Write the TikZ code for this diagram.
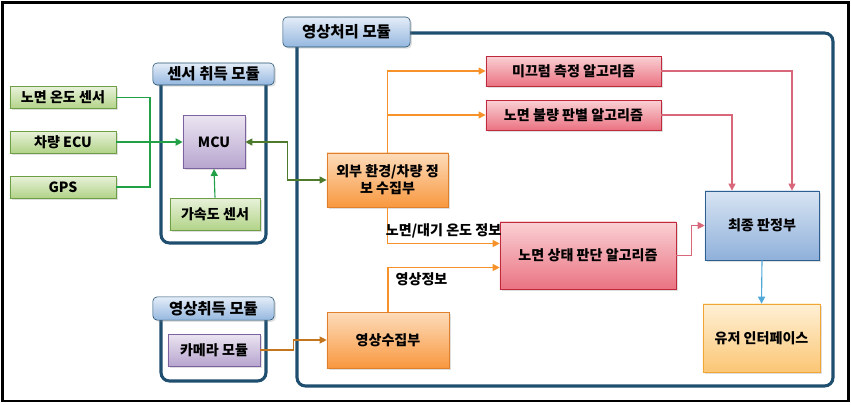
\documentclass[tikz,border=0pt]{standalone}
\usepackage{fontspec}
\setmainfont{Noto Sans CJK KR}
\usetikzlibrary{arrows.meta,calc,shadows}
\definecolor{modblue}{HTML}{1F4E6E}
\definecolor{grnline}{HTML}{22A046}
\definecolor{dkgrn}{HTML}{4E7A2E}
\definecolor{orgline}{HTML}{F7922A}
\definecolor{brnline}{HTML}{C4761F}
\definecolor{redline}{HTML}{D9677A}
\definecolor{bluline}{HTML}{4FA8D8}
\definecolor{grntop}{HTML}{E8F2DA}
\definecolor{grnbot}{HTML}{B2D388}
\definecolor{grnedge}{HTML}{6E9E45}
\definecolor{purtop}{HTML}{EBE5F1}
\definecolor{purbot}{HTML}{B7A5CF}
\definecolor{puredge}{HTML}{7C62A0}
\definecolor{hdrtop}{HTML}{E4EDF8}
\definecolor{hdrbot}{HTML}{95B7DF}
\definecolor{orgtop}{HTML}{FDDCBB}
\definecolor{orgbot}{HTML}{F8983F}
\definecolor{orgedge}{HTML}{E0802C}
\definecolor{redtop}{HTML}{FAD0D4}
\definecolor{redbot}{HTML}{EA7382}
\definecolor{rededge}{HTML}{BE2A3C}
\definecolor{fintop}{HTML}{D8E4F3}
\definecolor{finbot}{HTML}{8FB0DA}
\definecolor{finedge}{HTML}{2D5F90}
\definecolor{uitop}{HTML}{FEF0D5}
\definecolor{uibot}{HTML}{FBC675}
\definecolor{uiedge}{HTML}{F0A535}
\tikzset{
  box/.style={
    inner sep=0pt,
    align=center,
    drop shadow={opacity=0.25,shadow xshift=1.2pt,shadow yshift=-1.2pt}},
  sensor/.style={box,
    draw=grnedge,
    top color=grntop,
    bottom color=grnbot,
    minimum width=2.65cm,
    minimum height=0.55cm},
  mcubox/.style={box,
    draw=puredge,
    top color=purtop,
    bottom color=purbot},
  header/.style={box,
    rounded corners=3pt,
    draw=modblue,
    top color=hdrtop,
    bottom color=hdrbot,
    font=\fontsize{11}{13}\selectfont\bfseries,
    minimum width=3.03cm,
    minimum height=0.55cm},
  orgbox/.style={box,
    draw=orgedge,
    top color=orgtop,
    bottom color=orgbot},
  redbox/.style={box,
    draw=rededge,
    top color=redtop,
    bottom color=redbot},
  finbox/.style={box,
    draw=finedge,
    top color=fintop,
    bottom color=finbot},
  uibox/.style={box,
    draw=uiedge,
    top color=uitop,
    bottom color=uibot},
  modframe/.style={
    draw=modblue,
    line width=2.2pt,
    rounded corners=6pt},
  conn/.style={line width=0.8pt,
    >={Triangle[length=5pt,width=5pt]}}}

\begin{document}
\begin{tikzpicture}[x=0.025cm, y=-0.025cm,
  font=\fontsize{10}{12}\selectfont\bfseries]

\useasboundingbox (0,0) rectangle (851,404);
\draw[line width=2pt] (2.5,2.5) rectangle (848.5,401);

\coordinate (S1) at (63,97.5);
\coordinate (S2) at (63,142);
\coordinate (S3) at (63,187);
\coordinate (M) at (214,142);
\coordinate (A) at (215,214);
\coordinate (H1) at (213.5,74);
\coordinate (H2) at (213.5,308.5);
\coordinate (H3) at (346.5,32);
\coordinate (C) at (214,350);
\coordinate (E) at (387.5,180);
\coordinate (V) at (388,340);
\coordinate (R1) at (573.5,71);
\coordinate (R2) at (573.5,115);
\coordinate (R3) at (588,255.5);
\coordinate (F) at (762,225.5);
\coordinate (U) at (761.5,338);
\coordinate (join) at (150,142);

\draw[modframe] (161,80) -- (161,243) -- (266,243) -- (266,80);
\draw[modframe] (161,315) -- (161,381) -- (266,381) -- (266,315);
\draw[modframe] (297,42) -- (297,386) -- (833,386) -- (833,33) -- (400,33);

\node[header] (sensmod) at (H1) {센서 취득 모듈};
\node[header,
  minimum height=0.58cm] (cammod) at (H2) {영상취득 모듈};
\node[header,
  minimum width=3.18cm,
  minimum height=0.75cm] (imgmod) at (H3) {영상처리 모듈};

\node[sensor] (roadtemp) at (S1) {노면 온도 센서};
\node[sensor] (ecu) at (S2) {차량 ECU};
\node[sensor] (gps) at (S3) {GPS};
\node[sensor,
  minimum width=2.25cm,
  minimum height=0.8cm] (accel) at (A) {가속도 센서};

\node[mcubox,
  minimum width=1.55cm,
  minimum height=1.33cm] (mcu) at (M) {MCU};
\node[mcubox,
  minimum width=2.3cm,
  minimum height=0.8cm] (camera) at (C) {카메라 모듈};

\node[orgbox,
  minimum width=3.03cm,
  minimum height=1.35cm] (extinfo) at (E) {외부 환경/차량 정\\보 수집부};
\node[orgbox,
  minimum width=3.05cm,
  minimum height=1.4cm] (imgcol) at (V) {영상수집부};

\node[redbox,
  minimum width=4.38cm,
  minimum height=0.75cm] (slip) at (R1) {미끄럼 측정 알고리즘};
\node[redbox,
  minimum width=4.38cm,
  minimum height=0.75cm] (defect) at (R2) {노면 불량 판별 알고리즘};
\node[redbox,
  minimum width=4.4cm,
  minimum height=1.68cm] (state) at (R3) {노면 상태 판단 알고리즘};

\node[finbox,
  minimum width=2.85cm,
  minimum height=1.73cm] (final) at (F) {최종 판정부};
\node[uibox,
  minimum width=2.93cm,
  minimum height=1.7cm] (ui) at (U) {유저 인터페이스};

\draw[conn,grnline] (roadtemp.east) -| (join);
\draw[conn,grnline] (gps.east) -| (join);
\draw[conn,grnline] (ecu.east) -- (join);
\draw[conn,grnline,line width=1.8pt,->] (join) -- (mcu.west);
\draw[conn,grnline,->] (accel.north) -- (mcu.south);

\draw[conn,dkgrn,<->] (mcu.east) -- ++(42,0) |- (extinfo.west);
\draw[conn,brnline,->] (camera.east) -- ++(33,0) |- (imgcol.west);

\draw[conn,orgline,->] (extinfo.north) |- (slip.west);
\draw[conn,orgline,->] (extinfo.north) |- (defect.west);
\draw[conn,orgline,->] (extinfo.south) |- ($(state.west)+(0,-12)$)
  node[pos=0.75,above,black] {노면/대기 온도 정보};
\draw[conn,orgline,->] (imgcol.north) |- ($(state.west)+(0,12)$)
  node[pos=0.65,below,black] {영상정보};

\draw[conn,redline,->] (slip.east) -| ($(final.north)+(30,0)$);
\draw[conn,redline,->] (defect.east) -| ($(final.north)+(-30,0)$);
\draw[conn,redline,->] (state.east) -- ++(15,0) |- (final.west);
\draw[conn,bluline,->] (final.south) -- (ui.north);

\end{tikzpicture}
\end{document}
